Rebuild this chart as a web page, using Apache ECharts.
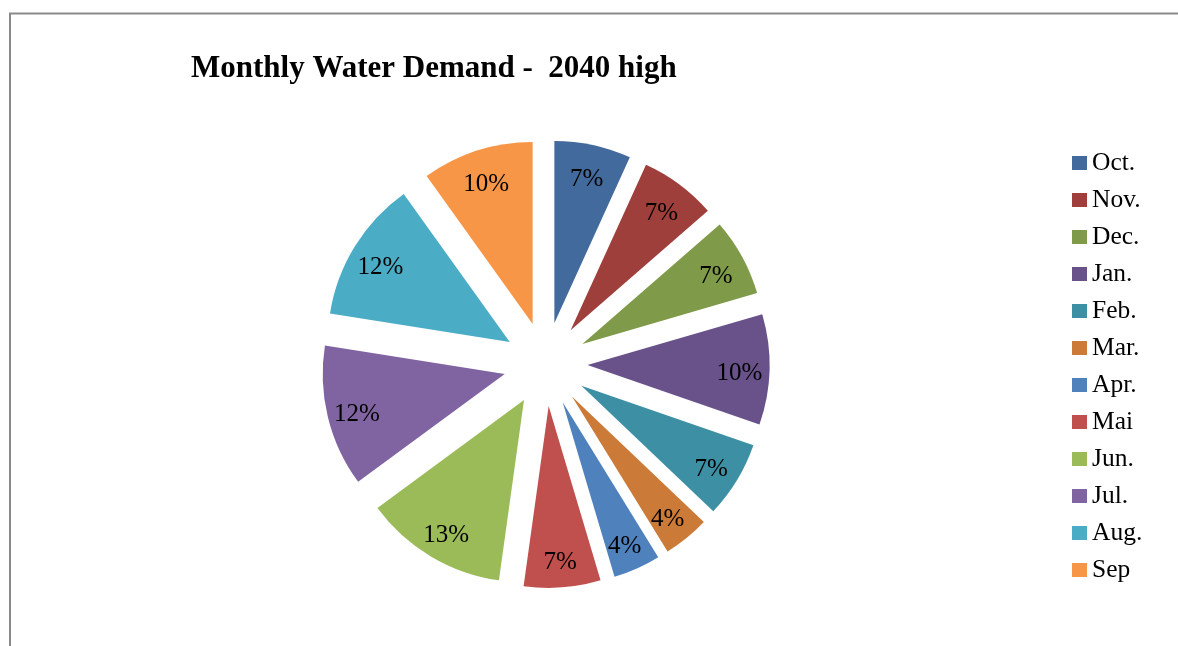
<!DOCTYPE html>
<html>
<head>
<meta charset="utf-8">
<title>Monthly Water Demand - 2040 high</title>
<script src="https://cdn.jsdelivr.net/npm/echarts@6/dist/echarts.min.js"></script>
<style>
  html, body { margin: 0; padding: 0; background: #ffffff; }
  #chart { width: 1178px; height: 646px; }
</style>
</head>
<body>
<div id="chart"></div>
<script>
// Monthly share of annual water demand (percent), water year Oct - Sep
const months = ['Oct.', 'Nov.', 'Dec.', 'Jan.', 'Feb.', 'Mar.', 'Apr.', 'Mai', 'Jun.', 'Jul.', 'Aug.', 'Sep'];
const demandShare = [6.8, 6.8, 6.9, 9.8, 6.8, 4.1, 4.2, 6.8, 12.7, 12.6, 12.6, 9.9];
const sliceColors = ['#426A9C', '#9F3F3C', '#7F9A48', '#69518A', '#3D8FA4', '#CB7B37',
                     '#4F81BD', '#C0504D', '#9BBB59', '#8064A2', '#4BACC6', '#F79646'];
const titleText = 'Monthly Water Demand -  2040 high';

const serif = '"Liberation Serif", "Times New Roman", serif';
const pieCenter = [545.5, 364];
const pieRadius = 182;
const explode = 42;

const sliceData = months.map((m, i) => ({
  name: m,
  value: demandShare[i],
  selected: true,
  itemStyle: { color: sliceColors[i] }
}));

const labelData = months.map((m, i) => ({
  name: m,
  value: demandShare[i],
  selected: true
}));

const chart = echarts.init(document.getElementById('chart'), null, { renderer: 'canvas' });
chart.setOption({
  animation: false,
  backgroundColor: '#ffffff',
  color: sliceColors,
  title: {
    text: titleText,
    left: 186,
    top: 48,
    textStyle: { fontFamily: serif, fontWeight: 'bold', fontSize: 31, color: '#000000' }
  },
  legend: {
    orient: 'vertical',
    left: 1072,
    top: 150,
    padding: 0,
    itemWidth: 15,
    itemHeight: 14,
    itemGap: 11,
    icon: 'rect',
    selectedMode: false,
    data: months,
    textStyle: { fontFamily: serif, fontSize: 25.5, lineHeight: 24, color: '#000000' }
  },
  graphic: [{
    type: 'polyline',
    silent: true,
    shape: { points: [[10, 660], [10, 13.5], [1190, 13.5]] },
    style: { stroke: '#8a8a8a', lineWidth: 2, fill: null }
  }],
  series: [
    {
      name: 'Monthly Water Demand',
      type: 'pie',
      center: pieCenter,
      radius: [0, pieRadius],
      startAngle: 90,
      clockwise: true,
      selectedMode: 'multiple',
      selectedOffset: explode,
      percentPrecision: 0,
      avoidLabelOverlap: false,
      label: { show: false },
      labelLine: { show: false },
      itemStyle: { borderWidth: 0 },
      emphasis: { disabled: true },
      select: { itemStyle: { borderWidth: 0 } },
      data: sliceData
    },
    {
      name: 'Share labels',
      type: 'pie',
      center: pieCenter,
      radius: [116, pieRadius],
      startAngle: 90,
      clockwise: true,
      silent: true,
      selectedMode: 'multiple',
      selectedOffset: explode,
      percentPrecision: 0,
      avoidLabelOverlap: false,
      itemStyle: { color: 'rgba(0,0,0,0)', borderWidth: 0 },
      select: { itemStyle: { color: 'rgba(0,0,0,0)', borderWidth: 0 } },
      emphasis: { disabled: true },
      label: {
        show: true,
        position: 'inside',
        formatter: '{d}%',
        fontFamily: serif,
        fontSize: 25,
        color: '#000000'
      },
      labelLayout: { dy: 5 },
      labelLine: { show: false },
      data: labelData
    }
  ]
});
</script>
</body>
</html>
